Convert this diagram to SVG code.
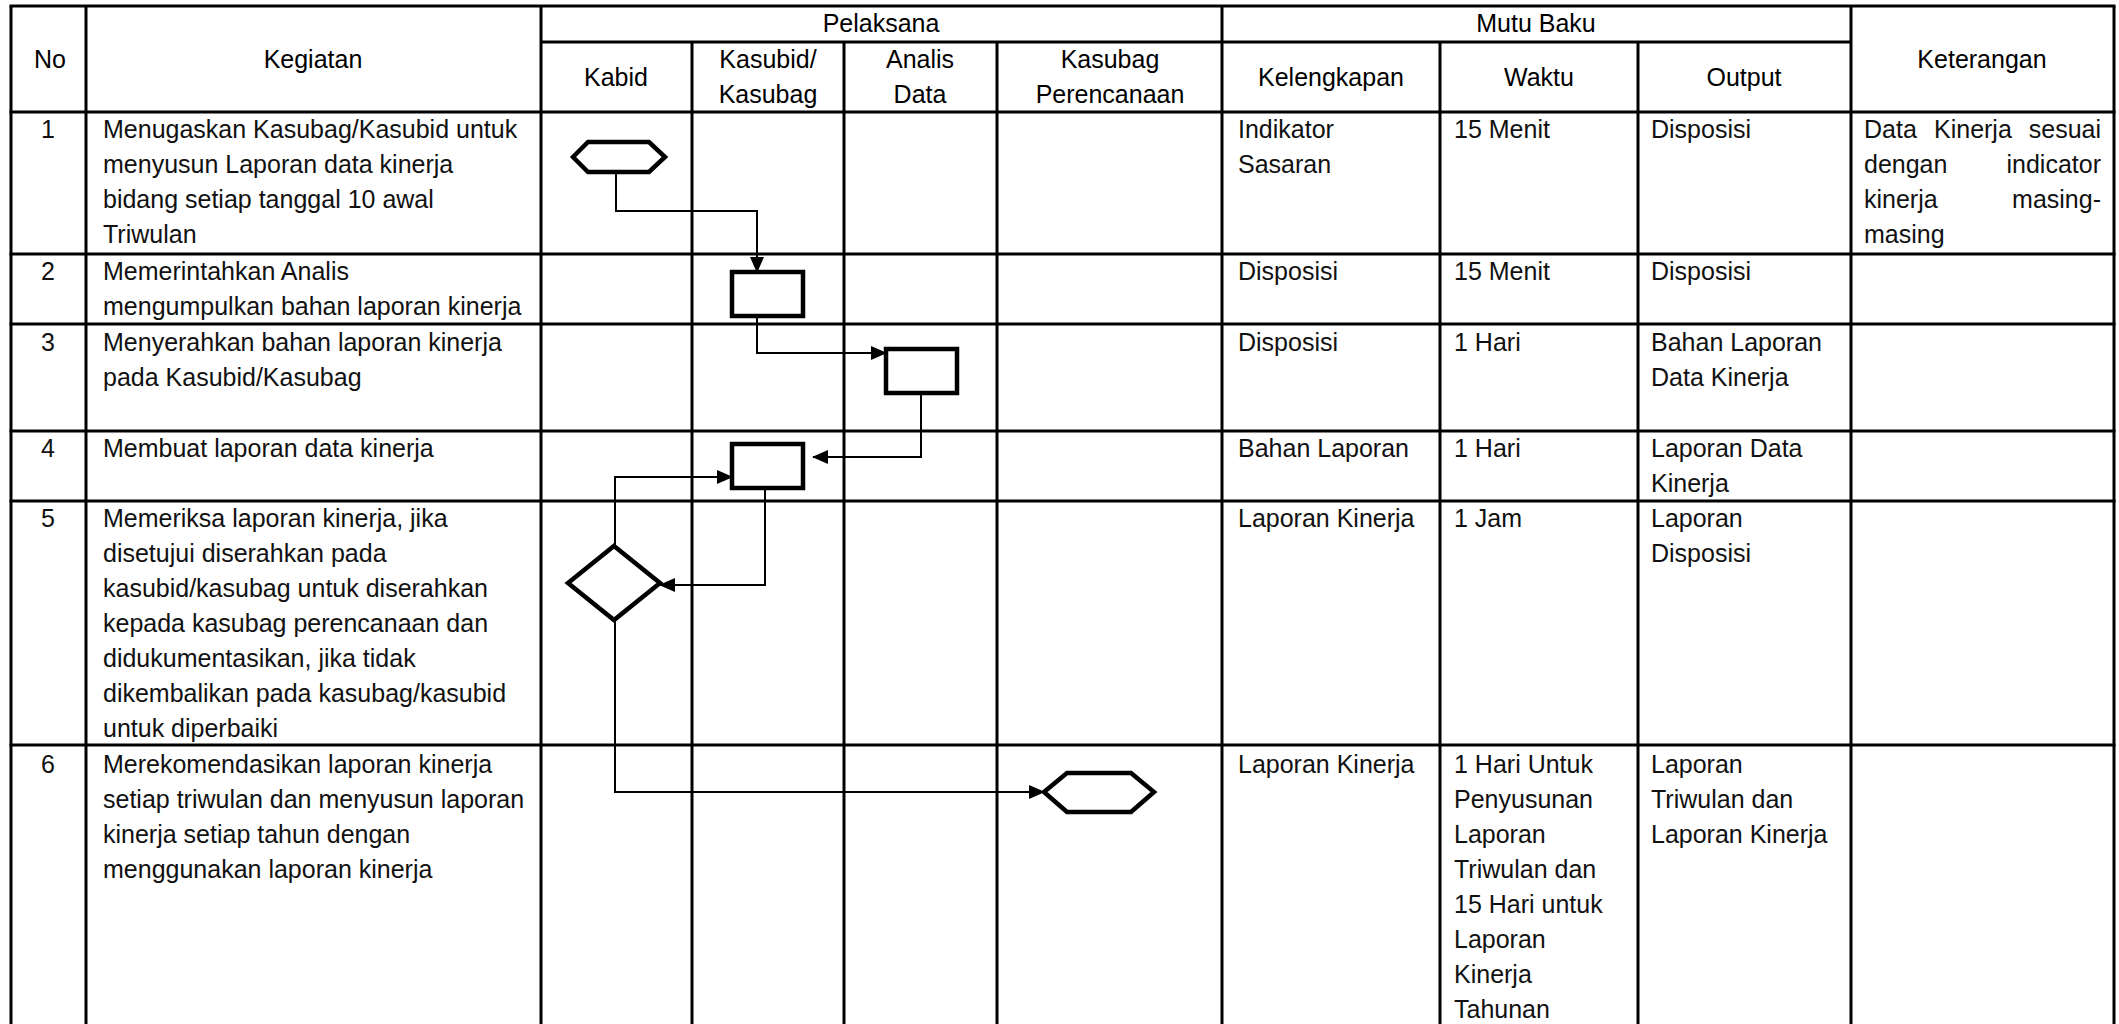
<svg xmlns="http://www.w3.org/2000/svg" width="2119" height="1024" viewBox="0 0 2119 1024">
<style>
.bg{fill:#ffffff}
.grid{stroke:#000;stroke-width:3;fill:none}
.t{font-family:"Liberation Sans",Arial,sans-serif;font-size:25px;fill:#111}
.h{font-family:"Liberation Sans",Arial,sans-serif;font-size:25px;fill:#000;text-anchor:middle}
.c{text-anchor:middle}
.e{text-anchor:end}
.shape{fill:#fff;stroke:#000;stroke-width:4.5}
.conn{fill:none;stroke:#000;stroke-width:2}
</style>
<defs>
<marker id="arr" markerUnits="userSpaceOnUse" markerWidth="16" markerHeight="14" refX="15" refY="7" orient="auto">
<path d="M0,0 L16,7 L0,14 Z" fill="#000"/>
</marker>
</defs>
<rect class="bg" x="0" y="0" width="2119" height="1024"/>
<g id="grid" class="grid">
<line x1="11" y1="6" x2="11" y2="1024"/>
<line x1="86" y1="6" x2="86" y2="1024"/>
<line x1="541" y1="6" x2="541" y2="1024"/>
<line x1="692" y1="42" x2="692" y2="1024"/>
<line x1="844" y1="42" x2="844" y2="1024"/>
<line x1="997" y1="42" x2="997" y2="1024"/>
<line x1="1222" y1="6" x2="1222" y2="1024"/>
<line x1="1440" y1="42" x2="1440" y2="1024"/>
<line x1="1638" y1="42" x2="1638" y2="1024"/>
<line x1="1851" y1="6" x2="1851" y2="1024"/>
<line x1="2114" y1="6" x2="2114" y2="1024"/>
<line x1="9.5" y1="6" x2="2115.5" y2="6"/>
<line x1="541" y1="42" x2="1851" y2="42"/>
<line x1="9.5" y1="112" x2="2115.5" y2="112"/>
<line x1="9.5" y1="254" x2="2115.5" y2="254"/>
<line x1="9.5" y1="324" x2="2115.5" y2="324"/>
<line x1="9.5" y1="431" x2="2115.5" y2="431"/>
<line x1="9.5" y1="501" x2="2115.5" y2="501"/>
<line x1="9.5" y1="745" x2="2115.5" y2="745"/>
</g>
<g id="header">
<text class="h" x="50" y="68">No</text>
<text class="h" x="313" y="68">Kegiatan</text>
<text class="h" x="881" y="32">Pelaksana</text>
<text class="h" x="1536" y="32">Mutu Baku</text>
<text class="h" x="1982" y="68">Keterangan</text>
<text class="h" x="616" y="86">Kabid</text>
<text class="h" x="768" y="68">Kasubid/</text>
<text class="h" x="768" y="103">Kasubag</text>
<text class="h" x="920" y="68">Analis</text>
<text class="h" x="920" y="103">Data</text>
<text class="h" x="1110" y="68">Kasubag</text>
<text class="h" x="1110" y="103">Perencanaan</text>
<text class="h" x="1331" y="86">Kelengkapan</text>
<text class="h" x="1539" y="86">Waktu</text>
<text class="h" x="1744" y="86">Output</text>
</g>
<g id="row1">
<text class="t c" x="48" y="138">1</text>
<text class="t" x="103" y="138">Menugaskan Kasubag/Kasubid untuk</text>
<text class="t" x="103" y="173">menyusun Laporan data kinerja</text>
<text class="t" x="103" y="208">bidang setiap tanggal 10 awal</text>
<text class="t" x="103" y="243">Triwulan</text>
<text class="t" x="1238" y="138">Indikator</text>
<text class="t" x="1238" y="173">Sasaran</text>
<text class="t" x="1454" y="138">15 Menit</text>
<text class="t" x="1651" y="138">Disposisi</text>
<text class="t" x="1864" y="138">Data</text>
<text class="t" x="1934" y="138">Kinerja</text>
<text class="t e" x="2101" y="138">sesuai</text>
<text class="t" x="1864" y="173">dengan</text>
<text class="t e" x="2101" y="173">indicator</text>
<text class="t" x="1864" y="208">kinerja</text>
<text class="t e" x="2101" y="208">masing-</text>
<text class="t" x="1864" y="243">masing</text>
</g>
<g id="row2">
<text class="t c" x="48" y="280">2</text>
<text class="t" x="103" y="280">Memerintahkan Analis</text>
<text class="t" x="103" y="315">mengumpulkan bahan laporan kinerja</text>
<text class="t" x="1238" y="280">Disposisi</text>
<text class="t" x="1454" y="280">15 Menit</text>
<text class="t" x="1651" y="280">Disposisi</text>
</g>
<g id="row3">
<text class="t c" x="48" y="351">3</text>
<text class="t" x="103" y="351">Menyerahkan bahan laporan kinerja</text>
<text class="t" x="103" y="386">pada Kasubid/Kasubag</text>
<text class="t" x="1238" y="351">Disposisi</text>
<text class="t" x="1454" y="351">1 Hari</text>
<text class="t" x="1651" y="351">Bahan Laporan</text>
<text class="t" x="1651" y="386">Data Kinerja</text>
</g>
<g id="row4">
<text class="t c" x="48" y="457">4</text>
<text class="t" x="103" y="457">Membuat laporan data kinerja</text>
<text class="t" x="1238" y="457">Bahan Laporan</text>
<text class="t" x="1454" y="457">1 Hari</text>
<text class="t" x="1651" y="457">Laporan Data</text>
<text class="t" x="1651" y="492">Kinerja</text>
</g>
<g id="row5">
<text class="t c" x="48" y="527">5</text>
<text class="t" x="103" y="527">Memeriksa laporan kinerja, jika</text>
<text class="t" x="103" y="562">disetujui diserahkan pada</text>
<text class="t" x="103" y="597">kasubid/kasubag untuk diserahkan</text>
<text class="t" x="103" y="632">kepada kasubag perencanaan dan</text>
<text class="t" x="103" y="667">didukumentasikan, jika tidak</text>
<text class="t" x="103" y="702">dikembalikan pada kasubag/kasubid</text>
<text class="t" x="103" y="737">untuk diperbaiki</text>
<text class="t" x="1238" y="527">Laporan Kinerja</text>
<text class="t" x="1454" y="527">1 Jam</text>
<text class="t" x="1651" y="527">Laporan</text>
<text class="t" x="1651" y="562">Disposisi</text>
</g>
<g id="row6">
<text class="t c" x="48" y="773">6</text>
<text class="t" x="103" y="773">Merekomendasikan laporan kinerja</text>
<text class="t" x="103" y="808">setiap triwulan dan menyusun laporan</text>
<text class="t" x="103" y="843">kinerja setiap tahun dengan</text>
<text class="t" x="103" y="878">menggunakan laporan kinerja</text>
<text class="t" x="1238" y="773">Laporan Kinerja</text>
<text class="t" x="1454" y="773">1 Hari Untuk</text>
<text class="t" x="1454" y="808">Penyusunan</text>
<text class="t" x="1454" y="843">Laporan</text>
<text class="t" x="1454" y="878">Triwulan dan</text>
<text class="t" x="1454" y="913">15 Hari untuk</text>
<text class="t" x="1454" y="948">Laporan</text>
<text class="t" x="1454" y="983">Kinerja</text>
<text class="t" x="1454" y="1018">Tahunan</text>
<text class="t" x="1651" y="773">Laporan</text>
<text class="t" x="1651" y="808">Triwulan dan</text>
<text class="t" x="1651" y="843">Laporan Kinerja</text>
</g>
<g id="connectors" class="conn">
<polyline points="616,172 616,211 757,211 757,272" marker-end="url(#arr)"/>
<polyline points="757,316 757,353 886,353" marker-end="url(#arr)"/>
<polyline points="921,393 921,457 813,457" marker-end="url(#arr)"/>
<polyline points="615,546 615,477 732,477" marker-end="url(#arr)"/>
<polyline points="765,488 765,585 660,585" marker-end="url(#arr)"/>
<polyline points="615,620 615,792 1044,792" marker-end="url(#arr)"/>
</g>
<g id="start">
<polygon class="shape" points="573,157 588,142 649,142 665,157 649,172 588,172"/>
</g>
<g id="task2">
<rect class="shape" x="732" y="272" width="71" height="44"/>
</g>
<g id="task3">
<rect class="shape" x="886" y="349" width="71" height="44"/>
</g>
<g id="task4">
<rect class="shape" x="732" y="444" width="71" height="44"/>
</g>
<g id="decision">
<polygon class="shape" points="614,546 660,583 614,620 568,583"/>
</g>
<g id="end">
<polygon class="shape" points="1044,792 1067,773 1131,773 1154,792 1131,812 1067,812"/>
</g>
</svg>
